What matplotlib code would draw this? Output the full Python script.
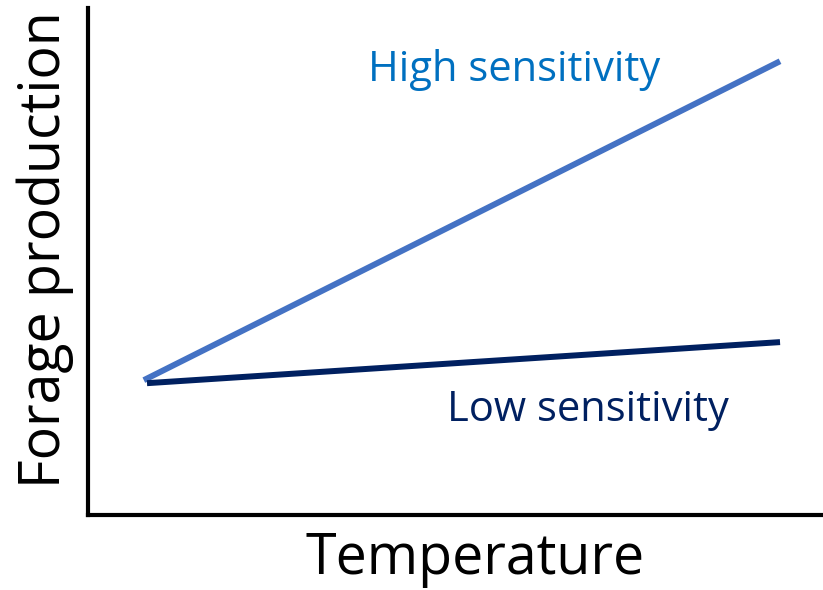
import matplotlib
matplotlib.use("Agg")
import matplotlib.pyplot as plt

# Conceptual data: forage production vs temperature
temperature = [0.0, 1.0]
high_sensitivity = [2.66, 8.95]
low_sensitivity = [2.60, 3.41]

plt.rcParams['font.family'] = ['Open Sans', 'DejaVu Sans']

fig = plt.figure(figsize=(8.23, 5.90), dpi=100)
ax = fig.add_axes([88 / 823, 75 / 590, 734 / 823, 507 / 590])

ax.plot([-0.005, 1.0], high_sensitivity, color="#4472C4", linewidth=4.3, solid_capstyle="butt")
ax.plot(temperature, low_sensitivity, color="#002060", linewidth=4.3, solid_capstyle="butt")

ax.text(0.58, 8.78, "High sensitivity", color="#0070C0", fontsize=30, ha="center", va="center")
ax.text(0.697, 2.07, "Low sensitivity", color="#002060", fontsize=30, ha="center", va="center")

ax.set_xlim(-0.0932, 1.0663)
ax.set_ylim(0, 10)
ax.set_xticks([])
ax.set_yticks([])
ax.spines['top'].set_visible(False)
ax.spines['right'].set_visible(False)
ax.spines['left'].set_linewidth(3)
ax.spines['bottom'].set_linewidth(3)

# axis titles placed in figure pixels
fig.text(475 / 823, 1 - 560 / 590, "Temperature", fontsize=40, ha="center", va="center")
fig.text(45 / 823, 1 - 250 / 590, "Forage production", fontsize=40, rotation=90,
         ha="center", va="center")

fig.savefig("out.png", dpi=100)
